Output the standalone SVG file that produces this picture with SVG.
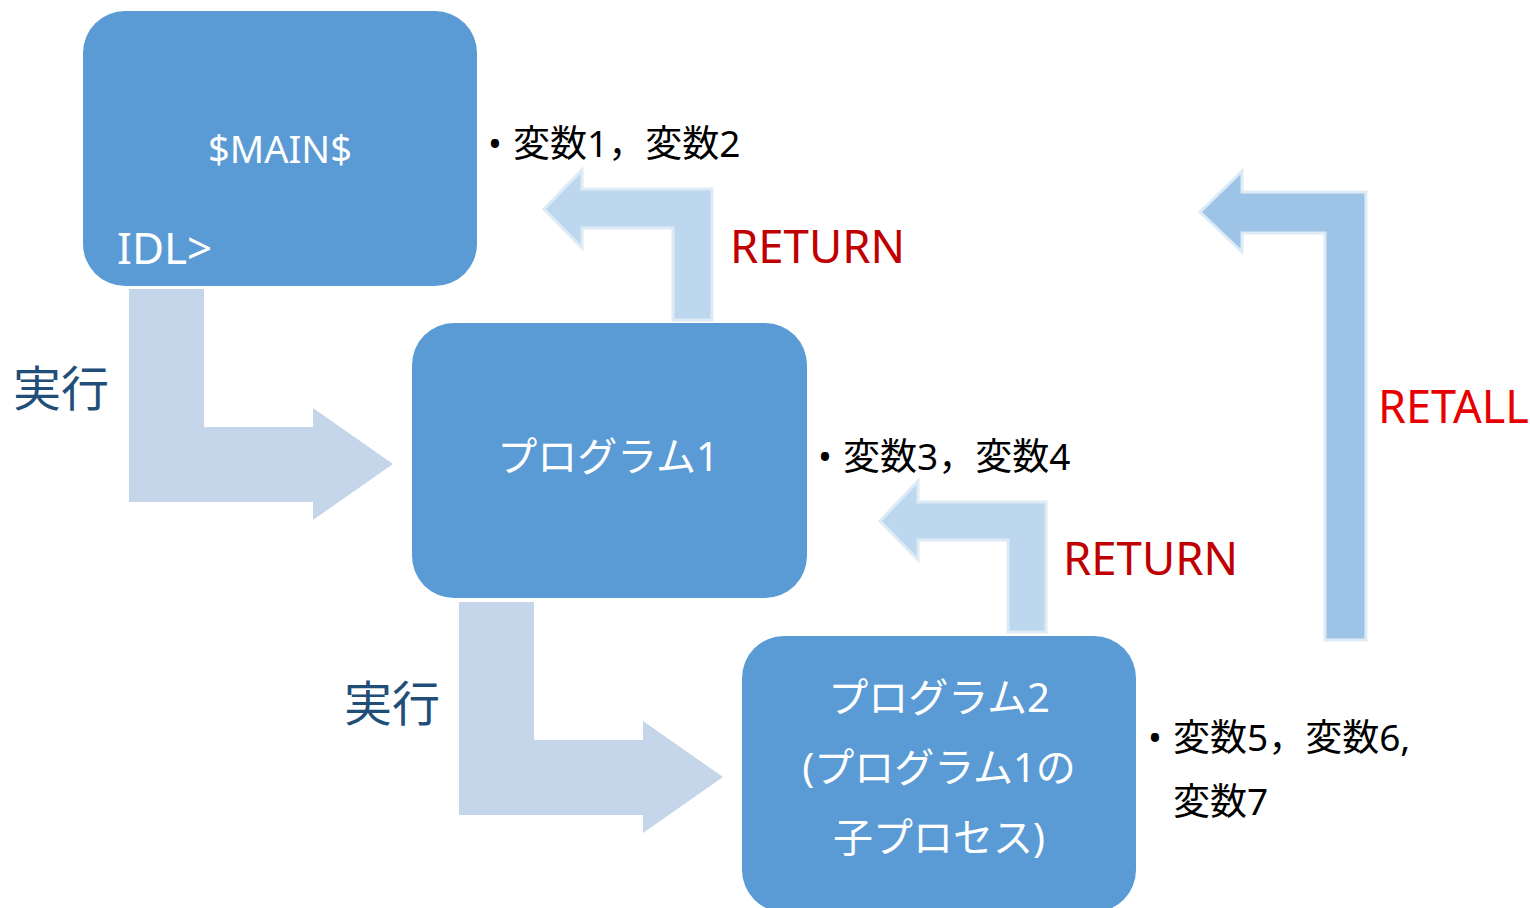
<svg xmlns="http://www.w3.org/2000/svg" width="1530" height="908" viewBox="0 0 1530 908">
<style>
text{font-family:"Noto Sans","Noto Sans CJK JP",sans-serif;}
.box{fill:#5B9BD5;}
.bt{fill:#FFFFFF;font-size:40px;text-anchor:middle;}
.exec{fill:#C5D5EA;}
.ret{fill:#BDD7EE;stroke:#DDEBF7;stroke-width:3;}
.retall{fill:#9DC3E6;stroke:#DDEBF7;stroke-width:3;}
.var{fill:#000000;font-size:37px;}
.red{fill:#C00000;font-size:45.5px;}
.red2{fill:#E80000;font-size:45px;}
.jp{fill:#1F4E79;font-size:48px;}
</style>
<rect width="1530" height="908" fill="#FFFFFF"/>
<g id="connectors">
  <path class="exec" d="M129,289 H204 V427 H313 V408 L393,464 L313,520 V502 H129 Z"/>
  <path class="exec" d="M459,602 H534 V740 H643 V721 L723,777 L643,833 V815 H459 Z"/>
  <path class="ret" d="M712,320 H673 V228 H582 V248 L544,209 L582,170 V189 H712 Z"/>
  <path class="ret" d="M1046,632 H1008 V540 H918 V560 L880,521 L918,481 V502 H1046 Z"/>
  <path class="retall" d="M1366,640 H1325 V233 H1242 V252 L1200,212 L1242,171 V192 H1366 Z"/>
</g>
<g id="main">
  <rect class="box" x="83" y="11" width="394" height="275" rx="42"/>
  <text x="280" y="163" fill="#FFFFFF" font-size="38" text-anchor="middle">$MAIN$</text>
  <text x="117" y="264" fill="#FFFFFF" font-size="44">IDL&gt;</text>
</g>
<g id="prog1">
  <rect class="box" x="412" y="323" width="395" height="275" rx="42"/>
  <text class="bt" x="608" y="471" font-size="42">プログラム1</text>
</g>
<g id="prog2">
  <rect class="box" x="742" y="636" width="394" height="276" rx="42"/>
  <text class="bt" x="939" y="712">プログラム2</text>
  <text class="bt" x="939" y="782">(プログラム1の</text>
  <text class="bt" x="939" y="852">子プロセス)</text>
</g>
<g id="labels">
  <text class="jp" x="13" y="406">実行</text>
  <text class="jp" x="344" y="721">実行</text>
  <text class="red" x="730" y="263">RETURN</text>
  <text class="red" x="1063" y="575">RETURN</text>
  <text class="red2" x="1378" y="423">RETALL</text>
  <text class="var" x="488" y="157">•</text>
  <text class="var" x="513" y="157">変数1，変数2</text>
  <text class="var" x="818" y="470">•</text>
  <text class="var" x="843" y="470">変数3，変数4</text>
  <text class="var" x="1148" y="751">•</text>
  <text class="var" x="1173" y="751">変数5，変数6,</text>
  <text class="var" x="1173" y="815">変数7</text>
</g>
</svg>
